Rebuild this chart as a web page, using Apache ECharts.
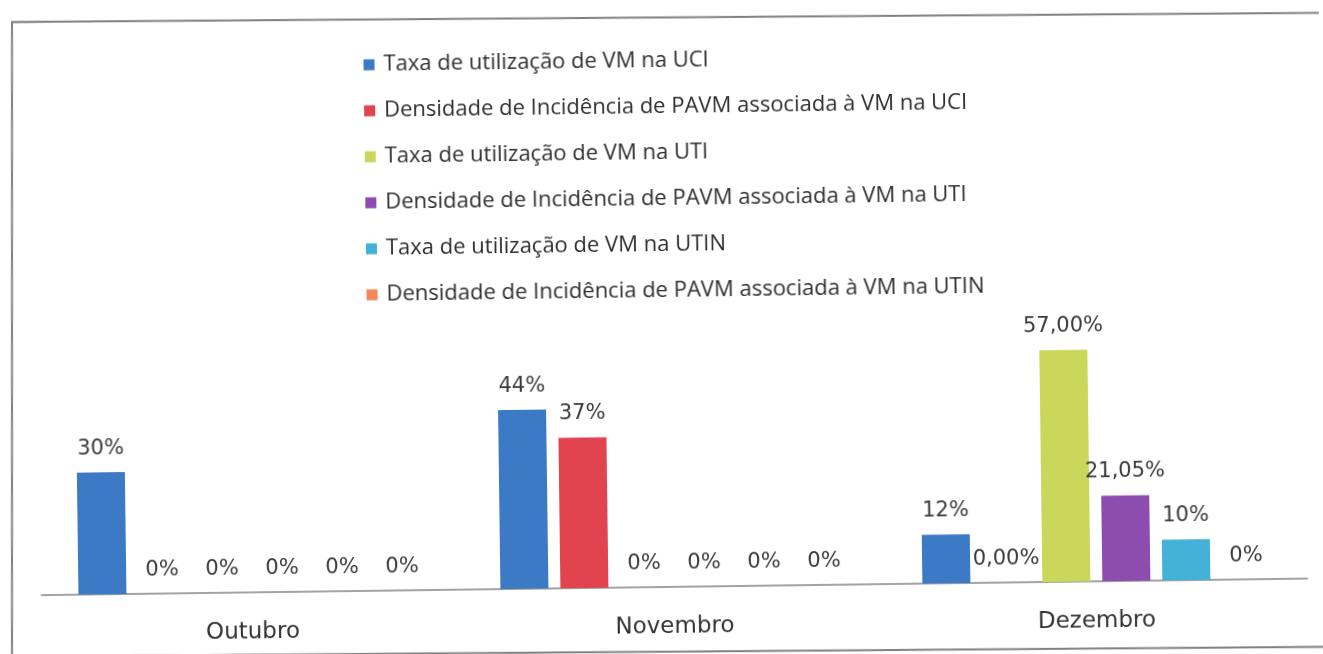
<!DOCTYPE html>
<html>
<head>
<meta charset="utf-8">
<title>Ventilação mecânica e PAVM</title>
<script src="https://cdn.jsdelivr.net/npm/echarts@6/dist/echarts.min.js"></script>
<style>
  html, body { margin: 0; padding: 0; background: #ffffff; overflow: hidden; width: 1323px; height: 654px; }
  #chart { width: 1323px; height: 700px; transform: rotate(-0.75deg); transform-origin: 661px 327px; }
</style>
</head>
<body>
<div id="chart"></div>
<script>
// Months on the category axis
const months = ['Outubro', 'Novembro', 'Dezembro'];

// Indicator names (legend order)
const seriesNames = [
  'Taxa de utilização de VM na UCI',
  'Densidade de Incidência de PAVM associada à VM na UCI',
  'Taxa de utilização de VM na UTI',
  'Densidade de Incidência de PAVM associada à VM na UTI',
  'Taxa de utilização de VM na UTIN',
  'Densidade de Incidência de PAVM associada à VM na UTIN'
];

// Values per indicator, one per month (fractions)
const taxaUCI  = [0.30, 0.44, 0.12];
const pavmUCI  = [0.00, 0.37, 0.00];
const taxaUTI  = [0.00, 0.00, 0.57];
const pavmUTI  = [0.00, 0.00, 0.2105];
const taxaUTIN = [0.00, 0.00, 0.10];
const pavmUTIN = [0.00, 0.00, 0.00];

// Decimal places shown in each data label
const decTaxaUCI  = [0, 0, 0];
const decPavmUCI  = [0, 0, 2];
const decTaxaUTI  = [0, 0, 2];
const decPavmUTI  = [0, 0, 2];
const decTaxaUTIN = [0, 0, 0];
const decPavmUTIN = [0, 0, 0];

const values   = [taxaUCI, pavmUCI, taxaUTI, pavmUTI, taxaUTIN, pavmUTIN];
const decimals = [decTaxaUCI, decPavmUCI, decTaxaUTI, decPavmUTI, decTaxaUTIN, decPavmUTIN];
const colors   = ['#3c7ac6', '#e1444f', '#cad75a', '#8c4daf', '#44b2d8', '#f4875c'];

// The canvas is turned by -0.75deg (see CSS); the outer frame sits at a
// slightly different angle, so its page corners are mapped back into
// canvas space before drawing.
const TILT = 0.75 * Math.PI / 180;
const CX = 661, CY = 327;
function toCanvas(x, y) {
  const dx = x - CX, dy = y - CY;
  const c = Math.cos(TILT), s = Math.sin(TILT);
  return [CX + c * dx - s * dy, CY + s * dx + c * dy];
}
const framePts = [
  toCanvas(12, 22), toCanvas(1345, 12.8),
  toCanvas(1345, 646.8), toCanvas(12, 656.5)
];

const chart = echarts.init(document.getElementById('chart'), null, { renderer: 'canvas' });

function pct(v, d) {
  return (v * 100).toFixed(d).replace('.', ',') + '%';
}

const series = seriesNames.map((name, i) => ({
  name: name,
  type: 'bar',
  data: values[i],
  barWidth: 48,
  barGap: '25%',
  itemStyle: { color: colors[i] },
  label: {
    show: true,
    position: 'top',
    distance: 13,
    color: '#3a3a3a',
    fontFamily: 'DejaVu Sans',
    fontSize: 21,
    formatter: p => pct(p.value, decimals[i][p.dataIndex])
  }
}));

chart.setOption({
  animation: false,
  backgroundColor: '#ffffff',
  graphic: [{
    type: 'polygon',
    shape: { points: framePts },
    style: { fill: 'none', stroke: '#808080', lineWidth: 2 },
    silent: true
  }],
  legend: {
    orient: 'vertical',
    left: 362,
    top: 44,
    itemWidth: 11,
    itemHeight: 11,
    itemGap: 22,
    icon: 'rect',
    textStyle: {
      fontFamily: 'Open Sans',
      fontSize: 22,
      lineHeight: 24,
      padding: [0, 0, 0, 4],
      color: '#2e2e2e'
    },
    data: seriesNames
  },
  grid: { left: 38, right: 19, top: 343, bottom: 113, containLabel: false },
  xAxis: {
    type: 'category',
    data: months,
    axisLine: { lineStyle: { color: '#858585', width: 1.5 } },
    axisTick: { show: false },
    axisLabel: {
      margin: 29,
      color: '#333333',
      fontFamily: 'DejaVu Sans',
      fontSize: 23
    }
  },
  yAxis: {
    type: 'value',
    min: 0,
    max: 0.6,
    show: false,
    splitLine: { show: false }
  },
  series: series
});
</script>
</body>
</html>
